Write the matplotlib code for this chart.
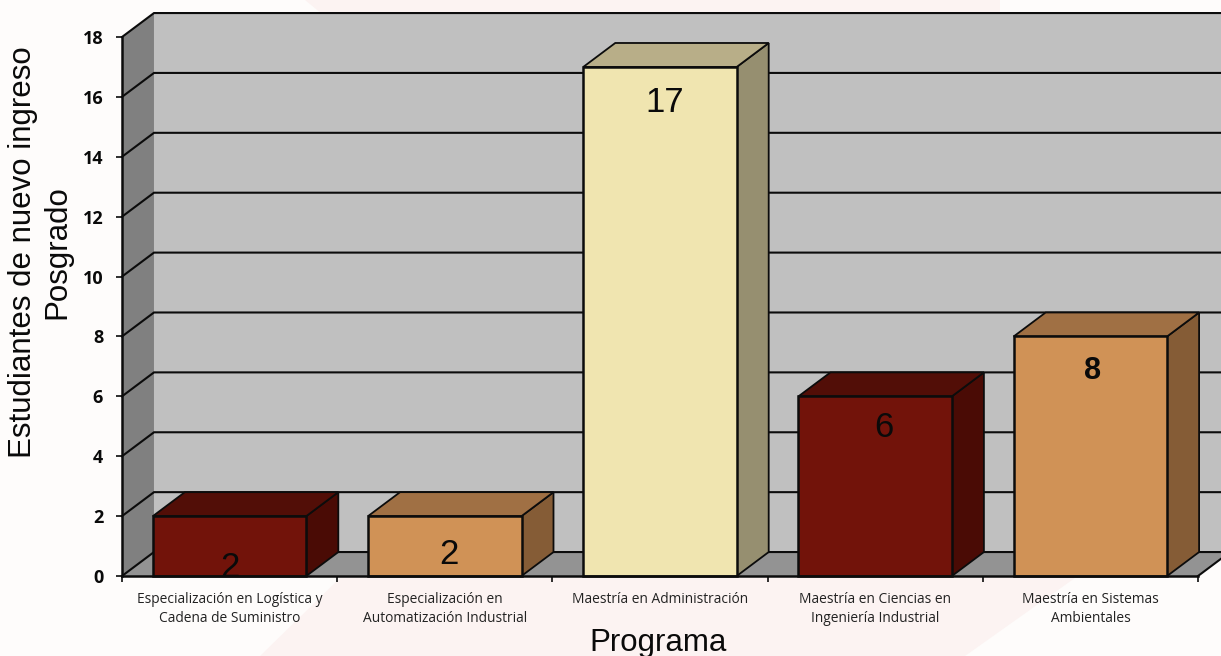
import matplotlib
matplotlib.use('Agg')
from matplotlib import pyplot
from matplotlib.patches import Polygon

# data
programas = ['Especialización en Logística y\nCadena de Suministro',
             'Especialización en\nAutomatización Industrial',
             'Maestría en Administración',
             'Maestría en Ciencias en\nIngeniería Industrial',
             'Maestría en Sistemas\nAmbientales']
estudiantes = [2, 2, 17, 6, 8]
y_ticks = [0, 2, 4, 6, 8, 10, 12, 14, 16, 18]

# (front, top, side) per bar
ROJO = ('#72130a', '#520e07', '#4a0b05')
CAFE = ('#d09256', '#a07044', '#855c36')
CREMA = ('#f0e5b0', '#b8ae88', '#968f70')
colores = [ROJO, CAFE, CREMA, ROJO, CAFE]

# label placement relative to the bar (x units, y units below the top) and font size
label_shift = [0.0, 0.02, 0.02, 0.04, 0.01]
label_drop = [1.72, 1.28, 1.18, 1.03, 1.15]
label_size = [25, 25, 25, 25, 22]

W, H = 1221, 656
BAR_W = 0.713
DX, DY = 0.1486, 0.8   # depth of the 3D effect in data units
LINE = '#0c0c0c'

fig = pyplot.figure(figsize=(W / 100, H / 100), dpi=100, facecolor='#fefcfb')

# faint watermark behind the chart
for pts in ([(260, 656), (340, 578), (1075, 578), (965, 656)],
            [(305, 0), (322, 14), (1000, 14), (1000, 0)]):
    fig.add_artist(Polygon([(x / W, 1 - y / H) for x, y in pts], closed=True,
                           transform=fig.transFigure, fc='#fcf3f2', ec='none', zorder=0))

ax = fig.add_axes([122 / W, 1 - 576 / H, (1198 - 122) / W, (576 - 37) / H])
ax.patch.set_alpha(0)
ax.set_xlim(-0.5, 4.5)
ax.set_ylim(0, 18)


def poly(pts, color, z, lw=1.3, edge=LINE):
    p = Polygon(pts, closed=True, fc=color, ec=edge, lw=lw, clip_on=False,
                zorder=z, joinstyle='miter')
    ax.add_patch(p)
    return p


x0, x1 = -0.5, 4.5
ymax = y_ticks[-1]
# walls and floor
poly([(x0 + DX, DY), (x1 + DX, DY), (x1 + DX, ymax + DY), (x0 + DX, ymax + DY)], '#c0c0c0', 1, lw=0)
poly([(x0, 0), (x0 + DX, DY), (x0 + DX, ymax + DY), (x0, ymax)], '#808080', 1.1, lw=0)
poly([(x0, 0), (x1, 0), (x1 + DX, DY), (x0 + DX, DY)], '#939393', 1.2, lw=0)

# gridlines: diagonal on the side wall, then along the back wall
for t in y_ticks:
    ax.plot([x0, x0 + DX, x1 + DX], [t, t + DY, t + DY], color=LINE, lw=1.5,
            clip_on=False, zorder=2, solid_joinstyle='miter')
ax.plot([x1, x1 + DX], [0, DY], color=LINE, lw=1.5, clip_on=False, zorder=2)

# bars
for i, (v, c) in enumerate(zip(estudiantes, colores)):
    left, right = i - BAR_W / 2, i + BAR_W / 2
    z = 3 + i
    poly([(right, 0), (right + DX, DY), (right + DX, v + DY), (right, v)], c[2], z)
    poly([(left, v), (right, v), (right + DX, v + DY), (left + DX, v + DY)], c[1], z)
    front = poly([(left, 0), (right, 0), (right, v), (left, v)], c[0], z + 0.1, lw=1.8)
    txt = ax.text(i + label_shift[i], v - label_drop[i], str(v), ha='center', va='center',
                  family='Liberation Sans', fontsize=label_size[i],
                  fontweight='bold' if label_size[i] < 24 else 'normal',
                  color='#0a0a0a', zorder=z + 0.2)
    txt.set_clip_path(front)

# axes
for s in ('top', 'right'):
    ax.spines[s].set_visible(False)
for s in ('left', 'bottom'):
    ax.spines[s].set_linewidth(1.8)
    ax.spines[s].set_color(LINE)
    ax.spines[s].set_zorder(20)

ax.set_yticks(y_ticks)
ax.set_yticklabels([str(t) for t in y_ticks], family='Open Sans', fontweight='bold',
                   fontsize=13, color='#0a0a0a')
ax.tick_params(axis='y', length=4.5, width=1.2, pad=9, color=LINE)
ax.set_xticks([i - 0.5 for i in range(len(programas) + 1)])
ax.set_xticklabels([])
ax.set_xticks(range(len(programas)), minor=True)
ax.set_xticklabels(programas, minor=True, family='Open Sans', fontsize=9.9,
                   color='#222222', linespacing=1.4)
ax.tick_params(axis='x', which='major', length=4, width=1.2, color=LINE)
ax.tick_params(axis='x', which='minor', length=0, pad=11.5)

fig.text(23 / W, 1 - 252 / H, 'Estudiantes de nuevo ingreso', rotation=90, ha='center',
         va='center', family='Liberation Sans', fontsize=22.5, color='#0a0a0a')
fig.text(57 / W, 1 - 252 / H, 'Posgrado', rotation=90, ha='center', va='center',
         family='Liberation Sans', fontsize=22.5, color='#0a0a0a')
fig.text(658 / W, 1 - 642.5 / H, 'Programa', ha='center', va='center',
         family='Liberation Sans', fontsize=22.5, color='#0a0a0a')

fig.savefig('out.png', dpi=100, facecolor=fig.get_facecolor())
